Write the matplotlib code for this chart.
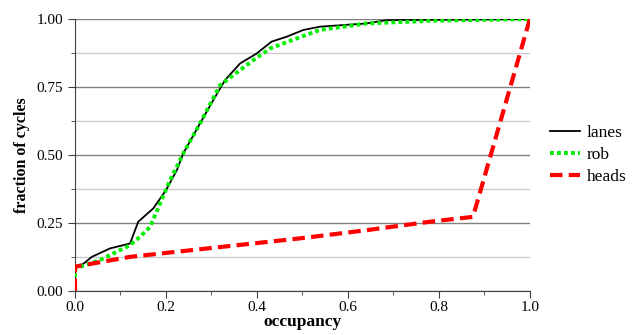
import matplotlib
matplotlib.use("Agg")
import matplotlib.pyplot as plt
from matplotlib.ticker import MultipleLocator, FormatStrFormatter

# curvas
lanes_x = [0.0, 0.0, 0.018, 0.037, 0.077, 0.121, 0.139, 0.172, 0.200, 0.224,
           0.238, 0.275, 0.304, 0.330, 0.363, 0.399, 0.432, 0.465, 0.502,
           0.538, 0.641, 0.685, 1.0]
lanes_y = [0.0, 0.089, 0.100, 0.126, 0.157, 0.175, 0.255, 0.304, 0.371, 0.445,
           0.506, 0.617, 0.702, 0.776, 0.837, 0.873, 0.917, 0.935, 0.960,
           0.972, 0.984, 0.996, 1.0]

rob_x = [0.0, 0.0, 0.055, 0.121, 0.143, 0.165, 0.187, 0.209, 0.231, 0.238,
         0.275, 0.319, 0.348, 0.392, 0.429, 0.473, 0.538, 0.641, 0.787, 1.0]
rob_y = [0.0, 0.083, 0.114, 0.169, 0.200, 0.236, 0.322, 0.408, 0.482, 0.506,
         0.617, 0.757, 0.794, 0.849, 0.892, 0.920, 0.960, 0.984, 0.994, 1.0]

heads_x = [0.0, 0.0, 0.121, 0.495, 0.641, 0.780, 0.875, 1.0]
heads_y = [0.0, 0.090, 0.126, 0.194, 0.224, 0.255, 0.273, 1.0]

plt.rcParams['font.family'] = ['Liberation Serif', 'DejaVu Serif']

fig = plt.figure(figsize=(6.33, 3.35), dpi=100)
ax = fig.add_axes([0.1185, 0.131, 0.7185, 0.812])

ax.plot(lanes_x, lanes_y, color='black', linewidth=1.3, label='lanes', zorder=3)
ax.plot(rob_x, rob_y, color='#00ee00', linewidth=2.8, linestyle=(0, (1, 0.8)),
        label='rob', zorder=4)
ax.plot(heads_x, heads_y, color='red', linewidth=3.0, linestyle=(0, (3, 1.5)),
        label='heads', zorder=5)

ax.set_xlim(0, 1)
ax.set_ylim(0, 1)
ax.xaxis.set_major_locator(MultipleLocator(0.2))
ax.xaxis.set_minor_locator(MultipleLocator(0.1))
ax.yaxis.set_major_locator(MultipleLocator(0.25))
ax.yaxis.set_minor_locator(MultipleLocator(0.125))
ax.xaxis.set_major_formatter(FormatStrFormatter('%.1f'))
ax.yaxis.set_major_formatter(FormatStrFormatter('%.2f'))

ax.grid(axis='y', which='major', color='#808080', linewidth=1.0)
ax.grid(axis='y', which='minor', color='#cccccc', linewidth=1.0)
ax.set_axisbelow(True)

for s in ['top', 'right']:
    ax.spines[s].set_visible(False)
for s in ['left', 'bottom']:
    ax.spines[s].set_color('#404040')

ax.tick_params(which='major', length=5, color='#404040', labelsize=11)
ax.tick_params(axis='x', which='major', pad=2)
ax.tick_params(which='minor', length=3, color='#404040')

ax.set_xlabel('occupancy', fontsize=12.5, fontweight='bold', labelpad=0)
ax.set_ylabel('fraction of cycles', fontsize=11.5, fontweight='bold', labelpad=5)

ax.legend(loc='center left', bbox_to_anchor=(1.01, 0.5), frameon=False,
          fontsize=12.5, handlelength=1.7, handletextpad=0.4, labelspacing=0.33)

fig.savefig('out.png', dpi=100)
